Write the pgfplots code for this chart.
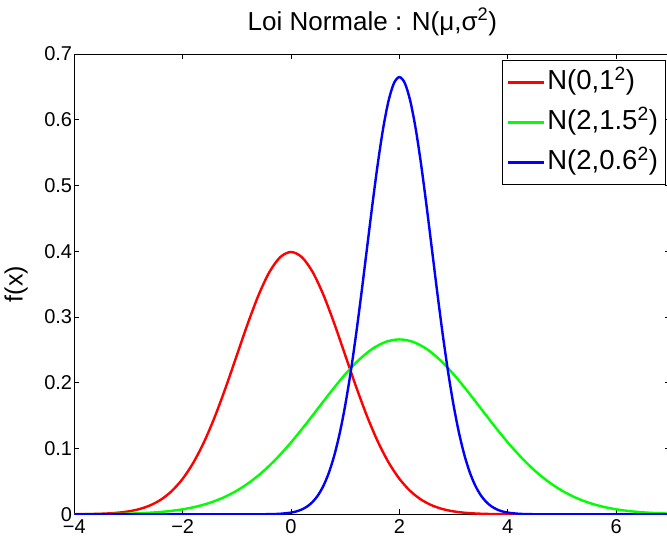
\documentclass[border=0pt]{standalone}
\usepackage{fontspec}
\setmainfont{Liberation Sans}
\usepackage{pgfplots}
\pgfplotsset{compat=1.18}

\begin{document}
\begin{tikzpicture}
\begin{axis}[
    scale only axis, width=596pt, height=460.3pt,
    xmin=-4, xmax=7, ymin=0, ymax=0.7,
    xtick={-4,-2,0,2,4,6}, xticklabels={−4,−2,0,2,4,6},
    ytick={0,0.1,0.2,0.3,0.4,0.5,0.6,0.7},
    yticklabels={0,0.1,0.2,0.3,0.4,0.5,0.6,0.7},
    tick align=inside, major tick length=5pt,
    axis line style={line width=0.9pt, black},
    tick style={line width=0.7pt, black},
    ticklabel style={font=\fontsize{20}{24}\selectfont},
    xticklabel style={inner sep=0pt, yshift=-5.5pt},
    yticklabel style={inner sep=2pt},
    title={Loi Normale : N(μ,σ\textsuperscript{2})},
    title style={font=\fontsize{26}{30}\selectfont, at={(0.5,1)}, anchor=base, yshift=18pt},
    ylabel={f(x)},
    every axis y label/.style={at={(axis description cs:-0.0975,0.5)}, rotate=90, anchor=center,
      font=\fontsize{25}{30}\selectfont},
    legend style={at={(1,1)}, anchor=north east, xshift=-5pt, yshift=-6pt,
      draw=black, line width=0.8pt, font=\fontsize{27.5}{31}\selectfont,
      inner xsep=5pt, inner ysep=2pt, row sep=0pt,
      nodes={text height=20pt, text depth=6pt, inner ysep=7pt, inner xsep=2pt}},
    legend cell align=left,
    legend image code/.code={\draw[#1] (0pt,0pt) -- (36pt,0pt);},
  ]
  % N(0,1)
  \addplot[red, line width=2.4pt, smooth] coordinates {
    (-4,0.000134) (-3.8,0.000292) (-3.6,0.000612) (-3.4,0.001232) (-3.2,0.002384)
    (-3,0.004432) (-2.8,0.007915) (-2.6,0.013583) (-2.4,0.022395) (-2.2,0.035475)
    (-2,0.053991) (-1.8,0.078950) (-1.6,0.110921) (-1.4,0.149727) (-1.2,0.194186)
    (-1,0.241971) (-0.8,0.289692) (-0.6,0.333225) (-0.4,0.368270) (-0.2,0.391043)
    (0,0.398942)
    (0.2,0.391043) (0.4,0.368270) (0.6,0.333225) (0.8,0.289692) (1,0.241971)
    (1.2,0.194186) (1.4,0.149727) (1.6,0.110921) (1.8,0.078950) (2,0.053991)
    (2.2,0.035475) (2.4,0.022395) (2.6,0.013583) (2.8,0.007915) (3,0.004432)
    (3.2,0.002384) (3.4,0.001232) (3.6,0.000612) (3.8,0.000292) (4,0.000134)
    (4.4,0.000025) (5,0.000001) (7,0)
  };
  \addlegendentry{N(0,1\textsuperscript{2})}
  % N(2,1.5^2)
  \addplot[green, line width=2.4pt, smooth] coordinates {
    (-4,0.000089) (-3.75,0.000171) (-3.5,0.000320) (-3.25,0.000582) (-3,0.001028)
    (-2.75,0.001768) (-2.5,0.002955) (-2.25,0.004804) (-2,0.007598) (-1.75,0.011686)
    (-1.5,0.017482) (-1.25,0.025435) (-1,0.035994) (-0.75,0.049541) (-0.5,0.066318)
    (-0.25,0.086345) (0,0.109340) (0.25,0.134666) (0.5,0.161314) (0.75,0.187942)
    (1,0.212966) (1.25,0.234711) (1.5,0.251589) (1.75,0.262294) (2,0.265962)
    (2.25,0.262294) (2.5,0.251589) (2.75,0.234711) (3,0.212966) (3.25,0.187942)
    (3.5,0.161314) (3.75,0.134666) (4,0.109340) (4.25,0.086345) (4.5,0.066318)
    (4.75,0.049541) (5,0.035994) (5.25,0.025435) (5.5,0.017482) (5.75,0.011686)
    (6,0.007598) (6.25,0.004804) (6.5,0.002955) (6.75,0.001768) (7,0.001028)
  };
  \addlegendentry{N(2,1.5\textsuperscript{2})}
  % N(2,0.6^2)
  \addplot[blue, line width=2.4pt, smooth] coordinates {
    (-4,0) (-1,0) (-0.8,0.000012) (-0.6,0.000056) (-0.4,0.000223) (-0.2,0.000801)
    (0,0.002571) (0.1,0.004418) (0.2,0.007386) (0.3,0.012010) (0.4,0.018993)
    (0.5,0.029214) (0.6,0.043704) (0.7,0.063587) (0.8,0.089985) (0.9,0.123853)
    (1,0.165795) (1.1,0.215863) (1.2,0.273350) (1.3,0.336665) (1.4,0.403285)
    (1.5,0.469853) (1.6,0.532413) (1.7,0.586777) (1.8,0.628972) (1.9,0.655733)
    (2,0.664904)
    (2.1,0.655733) (2.2,0.628972) (2.3,0.586777) (2.4,0.532413) (2.5,0.469853)
    (2.6,0.403285) (2.7,0.336665) (2.8,0.273350) (2.9,0.215863) (3,0.165795)
    (3.1,0.123853) (3.2,0.089985) (3.3,0.063587) (3.4,0.043704) (3.5,0.029214)
    (3.6,0.018993) (3.7,0.012010) (3.8,0.007386) (3.9,0.004418) (4,0.002571)
    (4.2,0.000801) (4.4,0.000223) (4.6,0.000056) (4.8,0.000012) (5,0) (7,0)
  };
  \addlegendentry{N(2,0.6\textsuperscript{2})}
\end{axis}
\pgfresetboundingbox
\path[use as bounding box] (-74.3pt,-23.7pt) rectangle (592.7pt,514.3pt);
\end{tikzpicture}
\end{document}
